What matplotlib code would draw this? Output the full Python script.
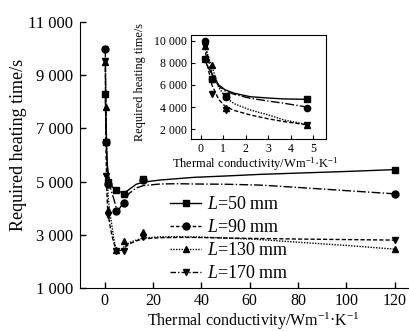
import numpy as np
import matplotlib
matplotlib.use("Agg")
import matplotlib.pyplot as plt
from matplotlib.lines import Line2D
from matplotlib.ticker import FuncFormatter

plt.rcParams["font.family"] = ["Liberation Serif", "DejaVu Serif"]
plt.rcParams["mathtext.fontset"] = "custom"
plt.rcParams["mathtext.rm"] = "Liberation Serif"
plt.rcParams["mathtext.it"] = "Liberation Serif:italic"

conductivity = [0.19, 0.5, 1.15, 4.75, 8.0, 16.0, 120.0]
time_L50 = [8300, 6500, 5000, 4700, 4550, 5100, 5450]
time_L90 = [10000, 6500, 4900, 3900, 4200, 5050, 4540]
time_L130 = [9500, 7800, 3950, 2420, 2750, 3100, 2460]
time_L170 = [9550, 5200, 3750, 2400, 2400, 2900, 2800]

# fitted curves
curve_x = [0.19, 0.3, 0.5, 0.8, 1.1, 1.5, 2.2, 3.0, 3.7, 4.75, 6, 8, 10, 13, 16,
           23, 30, 37, 50, 64, 80, 100, 120]
curve_L50 = [8300, 7700, 7000, 6000, 5550, 5250, 4940, 4820, 4740, 4700, 4620, 4570,
             4700, 4900, 4980, 5060, 5110, 5160, 5210, 5270, 5320, 5380, 5450]
curve_L90 = [10000, 8700, 7000, 5900, 5450, 5150, 4800, 4550, 4350, 4000, 3980, 4250,
             4550, 4760, 4850, 4910, 4920, 4910, 4900, 4870, 4780, 4660, 4540]
curve_L130 = [9500, 8800, 7700, 5800, 4900, 4300, 3750, 3300, 2850, 2420, 2400, 2550,
              2700, 2800, 2880, 2920, 2930, 2920, 2880, 2820, 2720, 2600, 2460]
curve_L170 = [9500, 7800, 6000, 4700, 4050, 3700, 3300, 2950, 2700, 2400, 2380, 2500,
              2650, 2770, 2850, 2890, 2900, 2900, 2880, 2860, 2840, 2820, 2800]

labels = ["$L$=50 mm", "$L$=90 mm", "$L$=130 mm", "$L$=170 mm"]

series = [time_L50, time_L90, time_L130, time_L170]
curves = [curve_L50, curve_L90, curve_L130, curve_L170]
markers = ["s", "o", "^", "v"]
curve_styles = ["-", "-.", (0, (1, 1)), (0, (3, 1.5))]
legend_styles = ["-", (0, (2.5, 1.5)), (0, (1, 1)), (0, (4, 1.5, 1, 1.5))]


def thousands(v, pos):
    return f"{int(v):,}".replace(",", " ")


fig = plt.figure(figsize=(4.09, 3.31), dpi=100)
ax = fig.add_axes([0.1956, 0.130, 0.8044, 0.8035])

for y, c, m, cs in zip(series, curves, markers, curve_styles):
    ax.plot(curve_x, c, color="black", lw=1.0, linestyle=cs)
    ax.plot(conductivity, y, linestyle="none", marker=m, color="black", markersize=5)

ax.set_xlim(-10.3, 126)
ax.set_ylim(1000, 11000)
ax.set_xticks([0, 20, 40, 60, 80, 100, 120])
ax.set_yticks([1000, 3000, 5000, 7000, 9000, 11000])
ax.yaxis.set_major_formatter(FuncFormatter(thousands))
ax.tick_params(direction="in", labelsize=12, length=4, width=1, pad=5)
ax.tick_params(axis="x", labelsize=11.5, pad=3.5)
ax.spines["top"].set_visible(False)
ax.spines["right"].set_visible(False)
ax.set_xlabel("Thermal conductivity/Wm$^{-1}$·K$^{-1}$", fontsize=11.5)
ax.set_ylabel("Required heating time/s", fontsize=13)
ax.xaxis.set_label_coords(0.527, -0.085)
ax.yaxis.set_label_coords(-0.162, 0.538)

handles = [Line2D([], [], color="black", lw=1.0, linestyle=ls, marker=m, markersize=5)
           for ls, m in zip(legend_styles, markers)]
ax.legend(handles, labels, loc="upper left", bbox_to_anchor=(0.275, 0.345),
          frameon=False, fontsize=13, handlelength=1.7, handletextpad=0.3,
          labelspacing=0.33, borderpad=0, borderaxespad=0)

# inset
ins = fig.add_axes([0.4663, 0.5791, 0.33, 0.3152])
n = 10  # curve points up to 4.75
for y, c, m, cs in zip(series, curves, markers, curve_styles):
    ins.plot(curve_x[:n], c[:n], color="black", lw=1.0, linestyle=cs)
    ins.plot(conductivity[:4], y[:4], linestyle="none", marker=m, color="black", markersize=4.5)
ins.set_xlim(-0.44, 5.56)
ins.set_ylim(1100, 10500)
ins.set_xticks([0, 1, 2, 3, 4, 5])
ins.set_yticks([2000, 4000, 6000, 8000, 10000])
ins.yaxis.set_major_formatter(FuncFormatter(thousands))
ins.tick_params(direction="in", labelsize=8.5, length=3, pad=3)
ins.set_xlabel("Thermal conductivity/Wm$^{-1}$·K$^{-1}$", fontsize=9)
ins.set_ylabel("Required heating time/s", fontsize=8.8)
ins.xaxis.set_label_coords(0.476, -0.155)
ins.yaxis.set_label_coords(-0.331, 0.549)

fig.savefig("out.png", dpi=100)
